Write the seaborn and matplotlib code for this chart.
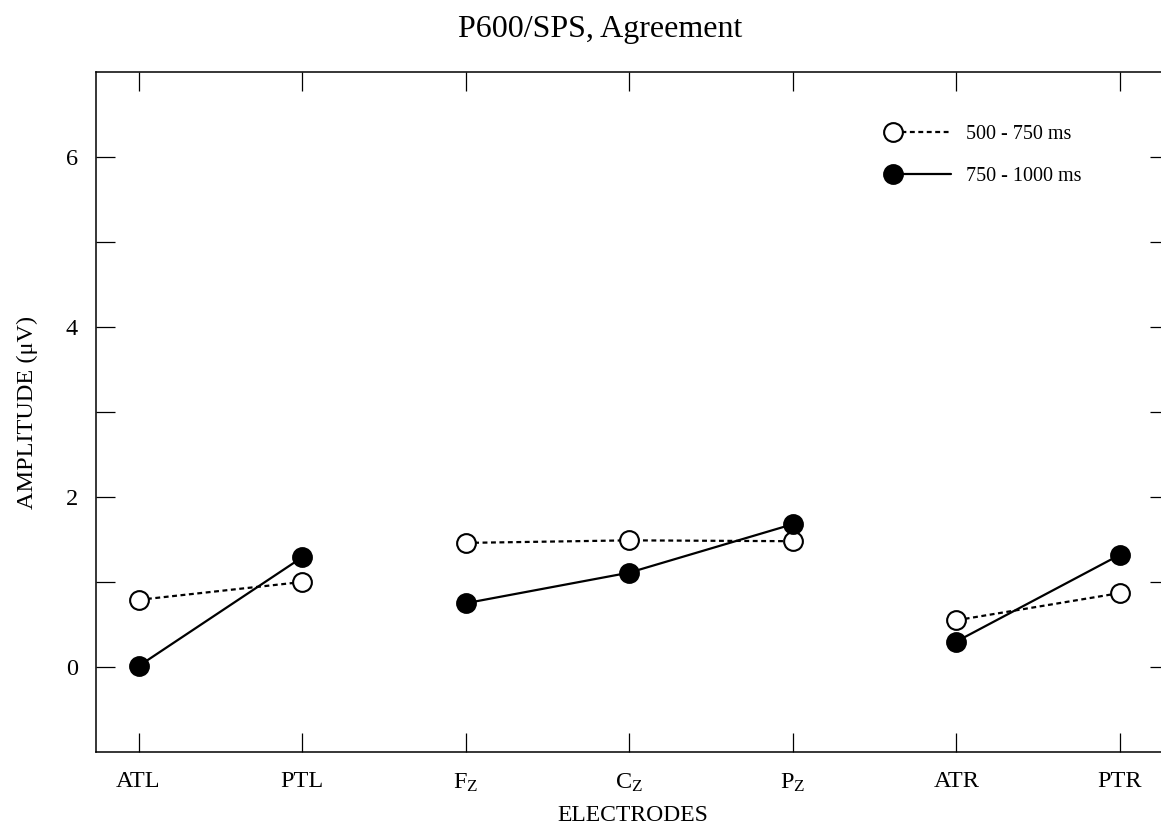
import numpy as np
import pandas as pd
import matplotlib
matplotlib.use("Agg")
import matplotlib.pyplot as plt
from matplotlib.lines import Line2D
from matplotlib.legend_handler import HandlerLine2D
from matplotlib.ticker import FixedLocator
import seaborn as sns

# ---- data ----
electrodes = ["ATL", "PTL", "F$_\\mathrm{Z}$", "C$_\\mathrm{Z}$", "P$_\\mathrm{Z}$", "ATR", "PTR"]
groups = ["left", "left", "mid", "mid", "mid", "right", "right"]
early_500_750 = [0.79, 1.00, 1.46, 1.49, 1.48, 0.55, 0.87]
late_750_1000 = [0.01, 1.29, 0.75, 1.11, 1.68, 0.30, 1.32]
series_labels = ["500 - 750 ms", "750 - 1000 ms"]

sns.set_theme(style="white")
plt.rcParams["font.family"] = ["Liberation Serif", "DejaVu Serif"]
plt.rcParams["mathtext.fontset"] = "custom"
plt.rcParams["mathtext.rm"] = "Liberation Serif"
plt.rcParams["mathtext.it"] = "Liberation Serif:italic"
plt.rcParams["text.color"] = "black"
plt.rcParams["axes.labelcolor"] = "black"
plt.rcParams["xtick.color"] = "black"
plt.rcParams["ytick.color"] = "black"

rows = []
for i, (e, g) in enumerate(zip(electrodes, groups)):
    rows.append(dict(pos=i, electrode=e, group=g, window=series_labels[0], amp=early_500_750[i]))
    rows.append(dict(pos=i, electrode=e, group=g, window=series_labels[1], amp=late_750_1000[i]))
df = pd.DataFrame(rows)

fig = plt.figure(figsize=(11.61, 8.31), dpi=100)
ax = fig.add_axes([96 / 1161, 1 - 752 / 831, (1169 - 96) / 1161, (752 - 72) / 831])

styles = {
    series_labels[0]: dict(linestyle=(0, (2.2, 1.6)), markerfacecolor="white"),
    series_labels[1]: dict(linestyle="-", markerfacecolor="black"),
}

for w in series_labels:
    for g in ["left", "mid", "right"]:
        sub = df[(df.window == w) & (df.group == g)]
        sns.lineplot(data=sub, x="pos", y="amp", ax=ax, color="black", lw=1.6,
                     marker="o", markersize=13.5, markeredgecolor="black",
                     markeredgewidth=1.5, estimator=None, sort=True,
                     legend=False, **styles[w])

ax.set_xlim(-0.26, 6.3)
ax.set_ylim(-1, 7)
ax.set_xticks(range(len(electrodes)))
ax.set_xticklabels(electrodes, fontsize=17.5)
ax.set_yticks([0, 2, 4, 6])
ax.set_yticklabels(["0", "2", "4", "6"], fontsize=17.5)
ax.yaxis.set_minor_locator(FixedLocator([1, 3, 5]))

ax.tick_params(axis="both", which="both", direction="in", length=13.7, width=0.9,
               color="black", top=True, right=True, bottom=True, left=True,
               labelbottom=True, labelleft=True, labeltop=False, labelright=False)
ax.tick_params(axis="x", pad=14)
ax.tick_params(axis="y", pad=13)

for s in ["left", "bottom", "top"]:
    ax.spines[s].set_color("black")
    ax.spines[s].set_linewidth(1.1)
ax.spines["right"].set_visible(False)

ax.set_xlabel("ELECTRODES", fontsize=17, labelpad=8)
ax.set_ylabel("AMPLITUDE (\u03bcV)", fontsize=17.5, labelpad=20)
ax.set_title("P600/SPS, Agreement", fontsize=23, pad=25, x=0.47)


class LeftMarker(HandlerLine2D):
    def create_artists(self, *args, **kwargs):
        arts = super().create_artists(*args, **kwargs)
        for a in arts:
            a.set_markevery([0])
        return arts


handles = [
    Line2D([], [], color="black", lw=1.6, marker="o", markersize=13.5,
           markeredgecolor="black", markeredgewidth=1.5, **styles[w])
    for w in series_labels
]
ax.legend(handles, series_labels, loc="upper left", bbox_to_anchor=(0.735, 0.934),
          frameon=False, fontsize=14.5, handlelength=2.9, handletextpad=0.75,
          labelspacing=1.15, borderaxespad=0,
          handler_map={h: LeftMarker() for h in handles})

fig.savefig("out.png", dpi=100)
